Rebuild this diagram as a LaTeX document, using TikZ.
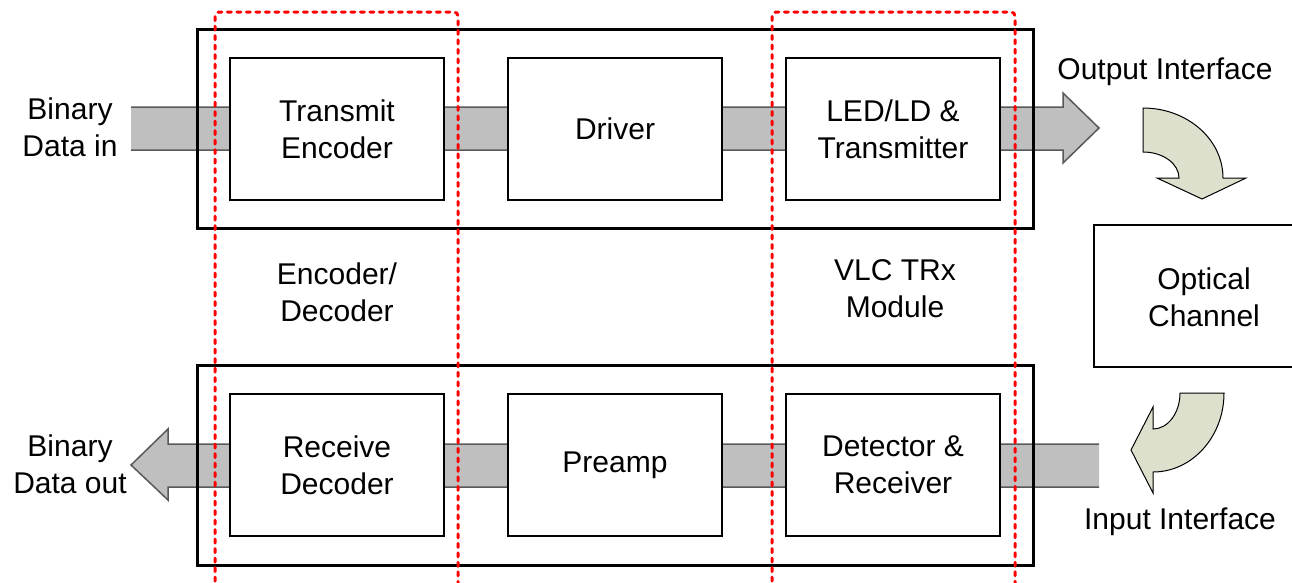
\documentclass[tikz,border=0pt]{standalone}
\usepackage{fontspec}
\setmainfont{Liberation Sans}
\begin{document}
\begin{tikzpicture}[x=1pt,y=-1pt,
  txt/.style={font=\fontsize{30}{37}\selectfont, align=center, inner sep=0pt},
  blk/.style={draw=black, line width=2pt, fill=white, minimum width=214pt, minimum height=142pt, inner sep=0pt, txt},
  outerbox/.style={draw=black, line width=3pt},
  band/.style={fill=black!25},
  bandline/.style={draw=black!65, line width=1.5pt},
  curved/.style={fill={rgb,255:red,221;green,224;blue,204}, draw=black, line width=1pt},
  reddash/.style={draw=red, line width=3pt, dash pattern=on 4pt off 5.5pt, line cap=round, rounded corners=4pt}
]
\clip (0,0) rectangle (1292,582);
% bands
\coordinate (tinL) at (131,107);
\coordinate (tinL2) at (131,150);
\coordinate (toutA) at (1063,107);
\coordinate (toutB) at (1063,150);
\fill[band] (tinL) -- (toutA) -- (1063,93) -- (1099,128) -- (1063,163) -- (toutB) -- (tinL2) -- cycle;
\draw[bandline] (tinL) -- (toutA) -- (1063,93) -- (1099,128) -- (1063,163) -- (toutB) -- (tinL2);
\coordinate (binR) at (1099,444);
\coordinate (binR2) at (1099,487);
\fill[band] (binR) -- (168,444) -- (168,429) -- (131,465) -- (168,500) -- (168,487) -- (binR2) -- cycle;
\draw[bandline] (binR) -- (168,444) -- (168,429) -- (131,465) -- (168,500) -- (168,487) -- (binR2);
% outer boxes
\draw[outerbox] (197,29) rectangle (1033,228);
\draw[outerbox] (197,365) rectangle (1033,565);
% inner blocks
\node[blk] (enc) at (337,129) {Transmit\\Encoder};
\node[blk] (drv) at (615,129) {Driver};
\node[blk] (led) at (893,129) {LED/LD \&\\Transmitter};
\node[blk] (dec) at (337,465) {Receive\\Decoder};
\node[blk] (pre) at (615,465) {Preamp};
\node[blk] (det) at (893,465) {Detector \&\\Receiver};
% optical channel
\draw[black, line width=2pt, fill=white] (1320,225) -- (1094,225) -- (1094,367) -- (1320,367);
\node[txt] (opt) at (1204,297) {Optical\\Channel};
% curved arrows
\path[curved] (1143,108) .. controls (1187.2,108) and (1223,139.3) .. (1223,178) -- (1246,178) -- (1202,199) -- (1157,178) -- (1179,178) .. controls (1179,163.6) and (1162.9,152) .. (1143,152) -- cycle;
\path[curved] (1180,393) -- (1224,393) .. controls (1224,436.6) and (1192.2,472) .. (1153,472) -- (1153,493) -- (1131,450) -- (1153,407) -- (1153,429) .. controls (1167.9,429) and (1180,412.9) .. (1180,393) -- cycle;
% labels
\node[txt] (bin) at (70,127) {Binary\\Data in};
\node[txt] (bout) at (70,464) {Binary\\Data out};
\node[txt] (oif) at (1165,72) {Output Interface};
\node[txt] (iif) at (1180,522) {Input Interface};
\node[txt] (ed) at (337,292) {Encoder/\\Decoder};
\node[txt] (vlc) at (895,289) {VLC TRx\\Module};
% red dashed groups
\draw[reddash] (215,600) -- (215,12) -- (458,12) -- (458,600);
\draw[reddash] (772,600) -- (772,12) -- (1015,12) -- (1015,600);
\end{tikzpicture}
\end{document}
